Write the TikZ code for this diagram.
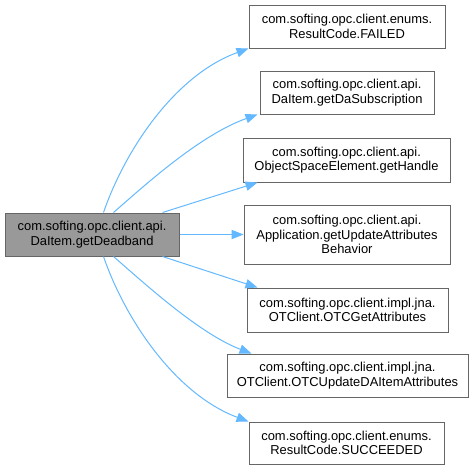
\documentclass[tikz,border=0pt]{standalone}
\usepackage{fontspec}
\setmainfont{Liberation Sans}
\usetikzlibrary{arrows.meta,calc}
\definecolor{edgeblue}{HTML}{63B8FF}
\definecolor{boxborder}{HTML}{666666}
\definecolor{srcfill}{HTML}{999999}
\begin{document}
\begin{tikzpicture}[x=0.75pt,y=-0.75pt,
  box/.style={draw=boxborder,line width=0.75pt,fill=white,inner sep=0pt,align=center,
    font=\fontsize{9.7}{10.9}\selectfont},
  srcbox/.style={box,fill=srcfill},
  link/.style={draw=edgeblue,line width=0.75pt,-{Triangle[length=9pt,width=7pt]}}]
\useasboundingbox (0,0) rectangle (473,469);
\node[srcbox,minimum width=174*0.75pt,minimum height=43*0.75pt] (src) at (92,234.5) {com.softing.opc.client.api.\\DaItem.getDeadband};
\node[box,minimum width=196*0.75pt,minimum height=43*0.75pt] (t1) at (347,26.5) {com.softing.opc.client.enums.\\ResultCode.FAILED};
\node[box,minimum width=174*0.75pt,minimum height=43*0.75pt] (t2) at (347,92.5) {com.softing.opc.client.api.\\DaItem.getDaSubscription};
\node[box,minimum width=207*0.75pt,minimum height=44*0.75pt] (t3) at (346.5,160) {com.softing.opc.client.api.\\ObjectSpaceElement.getHandle};
\node[box,minimum width=206*0.75pt,minimum height=59*0.75pt] (t4) at (347,234.5) {com.softing.opc.client.api.\\Application.getUpdateAttributes\\Behavior};
\node[box,minimum width=201*0.75pt,minimum height=44*0.75pt] (t5) at (347.5,310) {com.softing.opc.client.impl.jna.\\OTClient.OTCGetAttributes};
\node[box,minimum width=241*0.75pt,minimum height=43*0.75pt] (t6) at (347.5,375.5) {com.softing.opc.client.impl.jna.\\OTClient.OTCUpdateDAItemAttributes};
\node[box,minimum width=195*0.75pt,minimum height=42*0.75pt] (t7) at (346.5,443) {com.softing.opc.client.enums.\\ResultCode.SUCCEEDED};
\draw[link] ($(src.north west)+(99,0)$) .. controls (125,150) and (175,75) .. (t1.south west);
\draw[link] ($(src.north west)+(109,0)$) .. controls (145,185) and (200,135) .. ($(t2.south west)+(-2,0)$);
\draw[link] ($(src.north west)+(158,0)$) -- ($(t3.south west)+(15,0)$);
\draw[link] (src.east) -- (t4.west);
\draw[link] ($(src.south west)+(158,0)$) -- ($(t5.north west)+(11,0)$);
\draw[link] ($(src.south west)+(109,0)$) .. controls (145,284) and (200,334) .. ($(t6.north west)+(25,0)$);
\draw[link] ($(src.south west)+(99,0)$) .. controls (125,319) and (175,394) .. (t7.north west);
\end{tikzpicture}
\end{document}
